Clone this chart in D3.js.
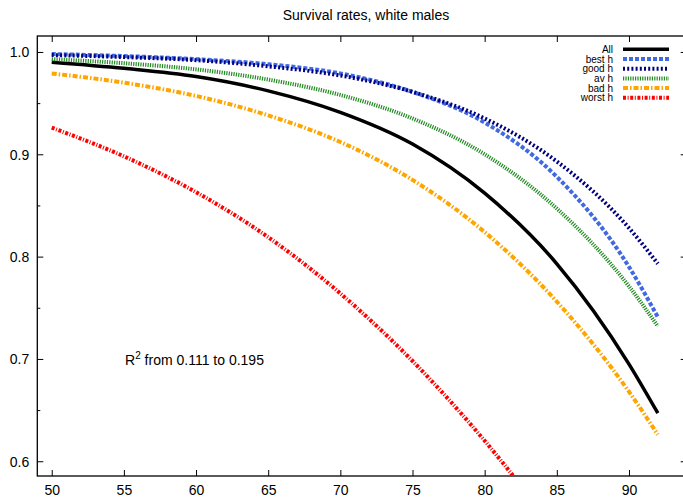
<!DOCTYPE html>
<html lang="en">
<script src='https://d3js.org/d3.v7.min.js'></script>
<style>
    body {margin:0; background:white;}
    text {font-family: "Liberation Sans", Arial, sans-serif; fill: black;}
</style>
<body>
<svg width=683 height=498></svg>
<script>
    // ages on the x axis, survival rate per group
    var ages = [50, 55, 60, 65, 70, 75, 80, 85, 90, 92];
    var allRate   = [0.990, 0.984, 0.976, 0.962, 0.941, 0.910, 0.862, 0.793, 0.695, 0.647];
    var bestRate  = [0.998, 0.996, 0.993, 0.988, 0.979, 0.961, 0.931, 0.878, 0.790, 0.741];
    var goodRate  = [0.997, 0.995, 0.992, 0.986, 0.977, 0.961, 0.935, 0.893, 0.828, 0.793];
    var avRate    = [0.993, 0.989, 0.983, 0.973, 0.958, 0.935, 0.900, 0.847, 0.771, 0.732];
    var badRate   = [0.979, 0.970, 0.957, 0.938, 0.912, 0.875, 0.824, 0.756, 0.668, 0.626];
    var worstRate = [0.926, 0.898, 0.863, 0.819, 0.764, 0.698, 0.620, 0.530, 0.432, 0.391];

    var seriesNames = ["All", "best h", "good h", "av h", "bad h", "worst h"];
    var xTicks = [50, 55, 60, 65, 70, 75, 80, 85, 90];
    var yTicks = [0.6, 0.7, 0.8, 0.9, 1.0];
    var yMinorTicks = [0.65, 0.75, 0.85, 0.95];

    // line look for each series (same order as seriesNames)
    var styles = [
        {color: "#000000", width: 3.5, dash: null},
        {color: "#4169e1", width: 4, dash: "4,2"},
        {color: "#000080", width: 4, dash: "2,2.2"},
        {color: "#228b22", width: 4, dash: "1.2,1.2"},
        {color: "#ffa500", width: 4, dash: "5,2,1.5,2"},
        {color: "#ff0000", width: 4, dash: "3,1.6,1,1.6"}
    ];
    var rates = [allRate, bestRate, goodRate, avRate, badRate, worstRate];

    // plot frame (window.top is reserved, so no plain "top")
    var pLeft = 37.3, pRight = 686.7, pTop = 36, pBottom = 476;
    var x = d3.scaleLinear().domain([49, 94]).range([pLeft, pRight]);
    var y = d3.scaleLinear().domain([0.5856, 1.0156]).range([pBottom, pTop]);

    var svg = d3.select("svg");

    svg.append("defs").append("clipPath").attr("id", "plotclip")
        .append("rect")
        .attr("x", pLeft).attr("y", pTop)
        .attr("width", pRight - pLeft).attr("height", pBottom - pTop);

    // AXES: ticks on all four sides, labels on left and bottom
    svg.append("g")
        .attr("transform", "translate(" + pLeft + ",0)")
        .call(d3.axisRight(y).tickValues(yTicks).tickSize(6).tickFormat(d3.format(".1f")))
        .call(function (g) {
            g.select(".domain").remove();
            g.selectAll("text").attr("x", -8).attr("text-anchor", "end")
                .style("font-size", "14px").attr("dy", "0.35em");
        });
    svg.append("g")
        .attr("transform", "translate(" + pLeft + ",0)")
        .call(d3.axisRight(y).tickValues(yMinorTicks).tickSize(3).tickFormat(""))
        .call(function (g) { g.select(".domain").remove(); });
    svg.append("g")
        .attr("transform", "translate(" + pRight + ",0)")
        .call(d3.axisLeft(y).tickValues(yTicks).tickSize(6).tickFormat(""))
        .call(function (g) { g.select(".domain").remove(); });
    svg.append("g")
        .attr("transform", "translate(" + pRight + ",0)")
        .call(d3.axisLeft(y).tickValues(yMinorTicks).tickSize(3).tickFormat(""))
        .call(function (g) { g.select(".domain").remove(); });
    svg.append("g")
        .attr("transform", "translate(0," + pBottom + ")")
        .call(d3.axisTop(x).tickValues(xTicks).tickSize(6).tickFormat(d3.format("d")))
        .call(function (g) {
            g.select(".domain").remove();
            g.selectAll("text").attr("y", 19).attr("dy", 0)
                .style("font-size", "14px");
        });
    svg.append("g")
        .attr("transform", "translate(0," + pTop + ")")
        .call(d3.axisBottom(x).tickValues(xTicks).tickSize(6).tickFormat(""))
        .call(function (g) { g.select(".domain").remove(); });
    svg.selectAll(".tick line").attr("stroke", "black").attr("stroke-width", 1);

    svg.append("rect")
        .attr("x", pLeft).attr("y", pTop)
        .attr("width", pRight - pLeft).attr("height", pBottom - pTop)
        .attr("fill", "none").attr("stroke", "black").attr("stroke-width", 1.3);

    // curves
    var line = d3.line()
        .x(function (d) { return x(d[0]); })
        .y(function (d) { return y(d[1]); })
        .curve(d3.curveMonotoneX);

    var plot = svg.append("g").attr("clip-path", "url(#plotclip)");
    rates.forEach(function (r, i) {
        var pts = ages.map(function (a, j) { return [a, r[j]]; });
        plot.append("path")
            .attr("d", line(pts))
            .attr("fill", "none")
            .attr("stroke", styles[i].color)
            .attr("stroke-width", styles[i].width)
            .attr("stroke-dasharray", styles[i].dash);
    });

    // legend
    var legend = svg.append("g");
    seriesNames.forEach(function (name, i) {
        var ly = 49.3 + i * 9.7;
        legend.append("text")
            .attr("x", 613).attr("y", ly).attr("dy", "0.35em")
            .attr("text-anchor", "end")
            .style("font-size", "10px")
            .text(name);
        legend.append("line")
            .attr("x1", 623).attr("x2", 669)
            .attr("y1", ly).attr("y2", ly)
            .attr("stroke", styles[i].color)
            .attr("stroke-width", styles[i].width)
            .attr("stroke-dasharray", styles[i].dash);
    });

    // title
    svg.append("text")
        .attr("x", (pLeft + pRight) / 2 + 4).attr("y", 20)
        .attr("text-anchor", "middle")
        .style("font-size", "14px")
        .text("Survival rates, white males");

    // annotation
    var note = svg.append("text")
        .attr("x", 125).attr("y", 365)
        .style("font-size", "14px");
    note.append("tspan").text("R");
    note.append("tspan").attr("dy", -6).style("font-size", "10px").text("2");
    note.append("tspan").attr("dy", 6).text(" from 0.111 to 0.195");
</script>
</body>
</html>
